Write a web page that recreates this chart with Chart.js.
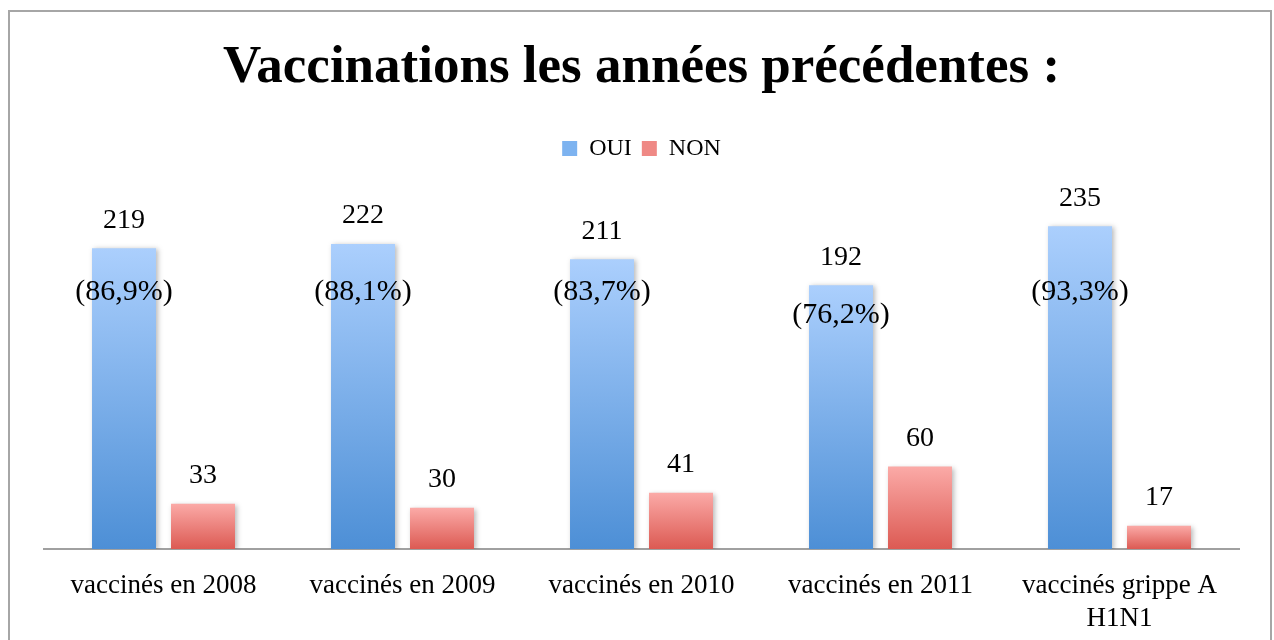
<!DOCTYPE html>
<html>
<head>
<meta charset="utf-8">
<script src="https://cdn.jsdelivr.net/npm/chart.js@4/dist/chart.umd.min.js"></script>
<style>
  body { margin: 0; background: #fff; }
  #wrap { position: absolute; left: 0; top: 0; width: 1274px; height: 640px; }
</style>
</head>
<body>
<div id="wrap"><canvas id="mychart" width="1274" height="640"></canvas></div>
<script>
const categories = ["vaccinés en 2008", "vaccinés en 2009", "vaccinés en 2010", "vaccinés en 2011", ["vaccinés grippe A", "H1N1"]];
const ouiValues = [219, 222, 211, 192, 235];
const nonValues = [33, 30, 41, 60, 17];
const ouiPercents = ["(86,9%)", "(88,1%)", "(83,7%)", "(76,2%)", "(93,3%)"];

const FONT = "'Liberation Serif', 'Times New Roman', serif";

// vertical gradient per bar, light at the top of the bar
function barGradient(context, light, dark) {
    const chart = context.chart;
    if (!chart.chartArea || context.raw == null) return dark;
    const y = chart.scales.y;
    const top = y.getPixelForValue(context.raw);
    const bottom = y.getPixelForValue(0);
    const g = chart.ctx.createLinearGradient(0, top, 0, bottom);
    g.addColorStop(0, light);
    g.addColorStop(1, dark);
    return g;
}

const framePlugin = {
    id: 'frame',
    beforeDraw(chart) {
        const c = chart.ctx;
        c.save();
        c.fillStyle = '#fff';
        c.fillRect(0, 0, chart.width, chart.height);
        c.strokeStyle = '#a6a6a6';
        c.lineWidth = 2;
        c.strokeRect(9, 11, 1262, 700);
        c.restore();
    },
    beforeDatasetsDraw(chart) {
        const c = chart.ctx;
        c.save();
        c.shadowColor = 'rgba(0,0,0,0.28)';
        c.shadowBlur = 5;
        c.shadowOffsetX = 2;
        c.shadowOffsetY = 1;
    },
    afterDatasetsDraw(chart) {
        chart.ctx.restore();
        const c = chart.ctx;
        const y = chart.scales.y;
        c.save();
        c.fillStyle = '#000';
        c.textAlign = 'center';
        c.textBaseline = 'middle';
        chart.data.datasets.forEach(function (ds, i) {
            chart.getDatasetMeta(i).data.forEach(function (bar, j) {
                c.font = "28px " + FONT;
                c.fillText(String(ds.data[j]), bar.x, bar.y - 28);
                if (i === 0) {
                    const py = Math.max(y.getPixelForValue(187), bar.y + 30);
                    c.font = "30px " + FONT;
                    c.fillText(ouiPercents[j], bar.x, py);
                }
            });
        });
        c.restore();
    }
};

const ctx = document.getElementById("mychart");
new Chart(ctx, {
    type: 'bar',
    data: {
        labels: categories,
        datasets: [{
            label: 'OUI',
            data: ouiValues,
            backgroundColor: function (context) { return barGradient(context, '#abcffd', '#4d8fd6'); },
            categoryPercentage: 0.661,
            barPercentage: 0.81
        }, {
            label: 'NON',
            data: nonValues,
            backgroundColor: function (context) { return barGradient(context, '#fbaaa7', '#dc5a53'); },
            categoryPercentage: 0.661,
            barPercentage: 0.81
        }]
    },
    options: {
        responsive: false,
        animation: false,
        layout: { padding: { top: 10, left: 44, right: 35, bottom: 5 } },
        plugins: {
            tooltip: { enabled: false },
            title: {
                display: true,
                text: 'Vaccinations les années précédentes :',
                color: '#000',
                font: { family: FONT, size: 53, weight: 'bold', lineHeight: 1.2 },
                padding: { top: 27, bottom: 26 }
            },
            legend: {
                display: true,
                labels: {
                    color: '#000',
                    font: { family: FONT, size: 24 },
                    boxWidth: 15,
                    boxHeight: 15,
                    padding: 10,
                    generateLabels: function () {
                        return [
                            { text: 'OUI', fillStyle: '#7db3f0', strokeStyle: '#7db3f0', lineWidth: 0, datasetIndex: 0 },
                            { text: 'NON', fillStyle: '#ef8985', strokeStyle: '#ef8985', lineWidth: 0, datasetIndex: 1 }
                        ];
                    }
                }
            }
        },
        scales: {
            x: {
                grid: { display: false, drawTicks: false },
                border: { display: true, color: '#a0a0a0', width: 2 },
                ticks: {
                    color: '#000',
                    padding: 20,
                    maxRotation: 0,
                    autoSkip: false,
                    font: { family: FONT, size: 27, lineHeight: 1.22 }
                },
                afterFit: function (scale) { scale.height = 86; }
            },
            y: {
                display: false,
                min: 0,
                max: 275.5
            }
        }
    },
    plugins: [framePlugin]
});
</script>
</body>
</html>
